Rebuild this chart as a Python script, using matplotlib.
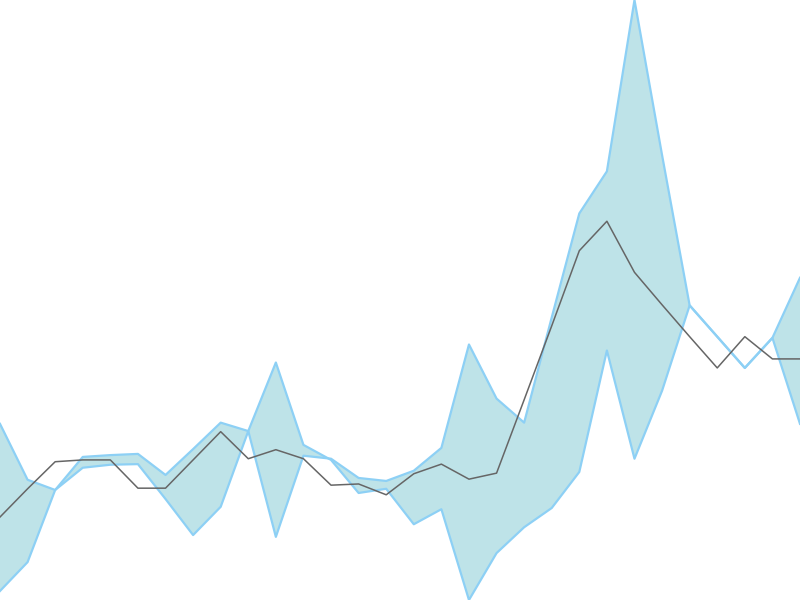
import numpy as np
import matplotlib
matplotlib.use("Agg")
import matplotlib.pyplot as plt

# band edges (they cross in places) and the middle line
band_a = [29.5, 20.2, 18.5, 24.0, 24.3, 24.5, 21.0, 25.3, 29.7, 28.3,
          10.7, 24.2, 23.7, 20.5, 20.0, 21.7, 25.5, 42.7, 33.7, 29.7,
          47.2, 64.5, 71.5, 100.0, 74.2, 49.2, 44.0, 38.8, 43.8, 53.8]
band_b = [1.7, 6.5, 18.5, 22.2, 22.7, 22.8, 17.0, 11.0, 15.7, 28.3,
          39.7, 26.0, 23.5, 18.0, 18.7, 12.8, 15.3, 0.2, 8.0, 12.3,
          15.5, 21.5, 41.7, 23.7, 35.0, 49.2, 44.0, 38.8, 43.8, 29.5]
mid = [14.0, 18.7, 23.2, 23.5, 23.5, 18.8, 18.8, 23.5, 28.2, 23.7,
       25.2, 23.7, 19.3, 19.5, 17.7, 21.2, 22.8, 20.3, 21.3, 33.5,
       45.8, 58.3, 63.2, 54.7, 49.3, 44.0, 38.8, 44.0, 40.3, 40.3]

x = np.arange(len(mid))

fig = plt.figure(figsize=(8, 6), dpi=100)
ax = fig.add_axes([0, 0, 1, 1])
ax.fill_between(x, band_a, band_b, color='#BEE3E8', linewidth=0)
ax.plot(x, band_a, color='#8DD0F5', lw=1.6)
ax.plot(x, band_b, color='#8DD0F5', lw=1.6)
ax.plot(x, mid, color='#666666', lw=1.1)

ax.set_xlim(0, len(mid) - 1)
ax.set_ylim(min(band_b), max(band_a))
ax.axis('off')

fig.savefig('out.png', dpi=100)
